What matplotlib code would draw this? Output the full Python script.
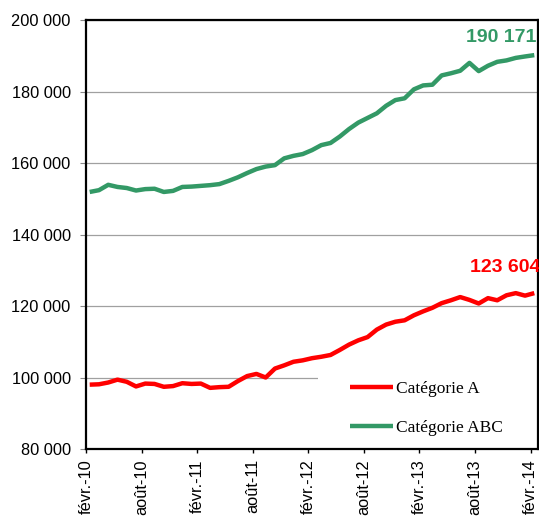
import numpy as np
import matplotlib
matplotlib.use('Agg')
from matplotlib import pyplot as plt
from matplotlib.patches import Rectangle

# monthly series, févr.-10 .. févr.-14
cat_a = [98.0, 98.1, 98.6, 99.4, 98.8, 97.5, 98.3, 98.2, 97.4, 97.6,
         98.4, 98.2, 98.3, 97.1, 97.3, 97.4, 99.0, 100.4, 101.0, 100.0,
         102.5, 103.4, 104.4, 104.8, 105.4, 105.8, 106.3, 107.7, 109.2, 110.4,
         111.3, 113.4, 114.8, 115.6, 116.0, 117.4, 118.5, 119.5, 120.8, 121.6,
         122.5, 121.7, 120.7, 122.2, 121.6, 123.0, 123.6, 122.9, 123.604]
cat_abc = [151.9, 152.4, 153.9, 153.3, 153.0, 152.3, 152.7, 152.8, 151.9, 152.2,
           153.3, 153.4, 153.6, 153.8, 154.1, 155.0, 156.0, 157.2, 158.3, 159.0,
           159.4, 161.3, 162.0, 162.5, 163.6, 165.0, 165.6, 167.4, 169.5, 171.3,
           172.6, 173.9, 176.0, 177.6, 178.1, 180.6, 181.7, 181.9, 184.5, 185.1,
           185.8, 188.0, 185.7, 187.2, 188.3, 188.7, 189.4, 189.8, 190.171]
cat_a = [v * 1000 for v in cat_a]
cat_abc = [v * 1000 for v in cat_abc]

tick_labels = ['févr.-10', 'août-10', 'févr.-11', 'août-11', 'févr.-12',
               'août-12', 'févr.-13', 'août-13', 'févr.-14']
yticks = [80000, 100000, 120000, 140000, 160000, 180000, 200000]

red = '#FF0000'
green = '#339966'

plt.rcParams['font.family'] = ['Liberation Sans', 'DejaVu Sans']

fig = plt.figure(figsize=(5.39, 5.16), dpi=100)
ax = fig.add_axes([86/539, 1-449/516, (538-86)/539, (449-20)/516])

x = np.arange(len(cat_a))
ax.plot(x, cat_a, color=red, lw=3.2, label='Catégorie A', zorder=3, solid_capstyle='butt')
ax.plot(x, cat_abc, color=green, lw=3.2, label='Catégorie ABC', zorder=3, solid_capstyle='butt')

ax.set_xlim(-0.4, 48.4)
ax.set_ylim(80000, 200000)
ax.set_yticks(yticks)
ax.set_yticklabels([f'{v:,}'.replace(',', ' ') for v in yticks], fontsize=11.8)
ax.set_xticks(np.arange(0, 49, 6) - 0.4)
ax.set_xticklabels(tick_labels, rotation=90, fontsize=11.8)
ax.tick_params(axis='y', direction='out', length=4.5, width=0.8, color='#888888', pad=6.5)
ax.tick_params(axis='x', direction='out', length=3, width=1, color='black', pad=4.3)

ax.set_axisbelow(True)
ax.grid(axis='y', color='#A0A0A0', lw=0.9)
for s in ax.spines.values():
    s.set_linewidth(1.6)
    s.set_color('black')

# white legend background hiding the gridline
bg = Rectangle((318/539, 1-449/516), (538-318)/539, (449-377)/516,
               transform=fig.transFigure, facecolor='white', edgecolor='none', zorder=1)
ax.add_artist(bg)

leg = ax.legend(loc='upper left', bbox_to_anchor=(350/539, 1-381/516),
                bbox_transform=fig.transFigure, frameon=False, borderpad=0,
                borderaxespad=0, handlelength=2.45, handletextpad=0.2,
                labelspacing=1.3, prop={'family': 'Liberation Serif', 'size': 12.5})

ax.annotate(f'{cat_abc[-1]:,.0f}'.replace(',', ' '), xy=(x[-1], cat_abc[-1]),
            xytext=(2, 18), textcoords='offset pixels', ha='right', va='center',
            color=green, fontsize=14, fontweight='bold', annotation_clip=False)
ax.annotate(f'{cat_a[-1]:,.0f}'.replace(',', ' '), xy=(x[-1], cat_a[-1]),
            xytext=(6, 26), textcoords='offset pixels', ha='right', va='center',
            color=red, fontsize=14, fontweight='bold', annotation_clip=False)

fig.savefig('out.png', dpi=100)
